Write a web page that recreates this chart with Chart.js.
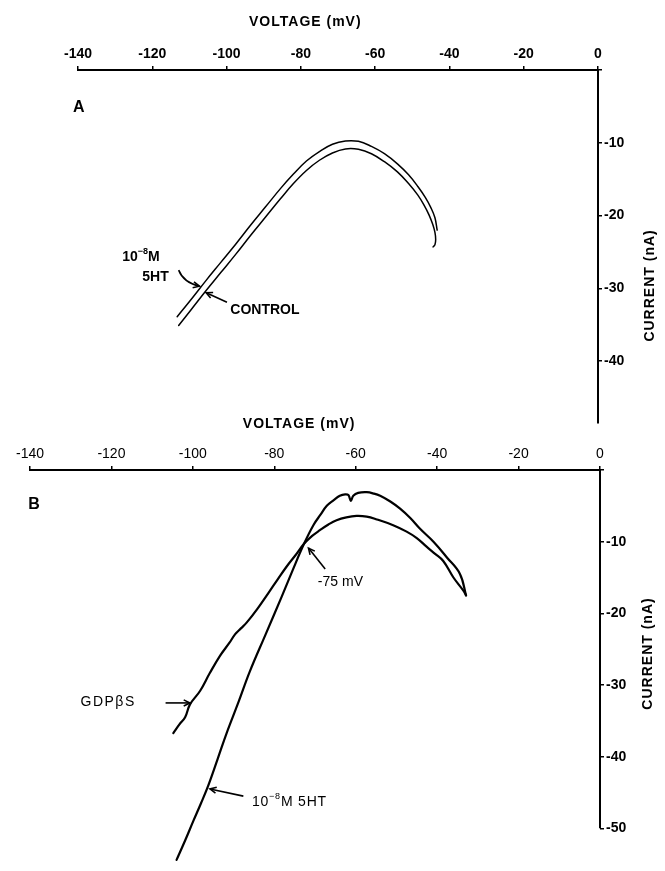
<!DOCTYPE html>
<html><head><meta charset="utf-8">
<script src="https://cdn.jsdelivr.net/npm/chart.js@4/dist/chart.umd.min.js"></script>
<style>
html,body{margin:0;padding:0;background:#fff;}
#wrap{position:relative;width:665px;height:871px;overflow:hidden;background:#fff;}
canvas{position:absolute;left:0;}
</style></head><body>
<div id="wrap">
<canvas id="ca" width="665" height="440" style="top:0px"></canvas>
<canvas id="cb" width="665" height="471" style="top:400px"></canvas>
</div>
<script>
// ---------- data ----------
const voltageTicks = [-140, -120, -100, -80, -60, -40, -20, 0];
const currentTicksA = [0, -10, -20, -30, -40];
const currentTicksB = [0, -10, -20, -30, -40, -50];

// Panel A : 10^-8 M 5HT (outer trace) and CONTROL (inner trace)
const a5htV = [-113.3,-109.5,-105.5,-101.5,-97.5,-93.5,-89.5,-85.5,-82,-78.5,-75,-71.5,-68,-64.5,-61,-57.5,-54,-51,-48.5,-46.5,-45,-43.9,-43.3];
const a5htI = [-33.9,-31.5,-28.9,-26.4,-23.9,-21.3,-18.8,-16.3,-14.3,-12.5,-11.2,-10.2,-9.75,-9.8,-10.5,-11.5,-12.9,-14.4,-16.0,-17.5,-18.9,-20.3,-22.0];
const aCtrlV = [-112.9,-109.5,-105.5,-101.5,-97.5,-93.5,-89.5,-85.5,-82,-78.5,-75,-71.5,-68,-64.5,-61,-57.5,-54,-51,-48.5,-46.8,-45.5,-44.5,-43.9,-43.7,-43.9,-44.4];
const aCtrlI = [-35.1,-32.9,-30.3,-27.8,-25.3,-22.7,-20.2,-17.7,-15.6,-13.8,-12.4,-11.4,-10.85,-10.9,-11.5,-12.6,-14.0,-15.6,-17.2,-18.6,-19.9,-21.2,-22.3,-23.3,-24.0,-24.3];

// Panel B : 10^-8 M 5HT and GDPbetaS
const b5htV = [-104.0,-101.9,-99.9,-98.0,-96.2,-93.9,-91.7,-88.8,-86.0,-82.1,-78.2,-75.5,-72.7,-70.4,-68.6,-67.1,-65.4,-63.9,-62.6,-61.8,-61.2,-60.6,-59.4,-57.3,-55.5,-54.0,-51.5,-49.1,-46.6,-44.2,-40.9,-37.6,-34.4,-32.9];
const b5htI = [-54.4,-51.7,-49.0,-46.5,-44.0,-40.3,-36.7,-32.4,-28.1,-22.9,-17.7,-14.0,-10.3,-7.7,-6.2,-5.0,-4.2,-3.6,-3.4,-3.5,-4.3,-3.6,-3.2,-3.1,-3.3,-3.6,-4.4,-5.4,-6.7,-8.2,-10.0,-12.2,-14.5,-17.5];
const bGdpV = [-104.8,-103.3,-101.9,-100.7,-98.2,-95.8,-93.3,-91.0,-89.6,-88.2,-86.8,-84.2,-81.5,-79.2,-77.0,-74.8,-72.7,-70.7,-68.8,-66.7,-64.7,-62.3,-59.8,-57.3,-54.8,-50.8,-47.5,-45.0,-42.6,-40.5,-38.5,-36.0,-33.6,-32.9];
const bGdpI = [-36.7,-35.5,-34.5,-32.7,-30.8,-28.3,-25.9,-24.1,-22.9,-22.1,-21.3,-19.4,-17.2,-15.3,-13.5,-11.9,-10.3,-9.2,-8.4,-7.6,-7.0,-6.6,-6.4,-6.5,-6.9,-7.7,-8.6,-9.5,-10.7,-11.7,-12.7,-15.0,-16.8,-17.5];

const pts = (vs, is) => vs.map((v, k) => ({x: v, y: is[k]}));

// ---------- drawing helpers ----------
const FONT = "'Liberation Sans', Arial, sans-serif";
function arrowHead(ctx, x, y, ang, size) {
  ctx.beginPath();
  ctx.moveTo(x - size * Math.cos(ang - 0.45), y - size * Math.sin(ang - 0.45));
  ctx.lineTo(x, y);
  ctx.lineTo(x - size * Math.cos(ang + 0.45), y - size * Math.sin(ang + 0.45));
  ctx.stroke();
}
const notesPlugin = {
  id: 'notes',
  afterDraw(chart, args, opts) {
    const ctx = chart.ctx, xs = chart.scales.x, ys = chart.scales.y;
    const P = (v, i) => [xs.getPixelForValue(v), ys.getPixelForValue(i)];
    ctx.save();
    ctx.fillStyle = '#000'; ctx.strokeStyle = '#000';
    if (opts.yLine) {
      const [x0, y0] = P(0, opts.yLine[0]); const [, y1] = P(0, opts.yLine[1]);
      ctx.lineWidth = 2; ctx.beginPath(); ctx.moveTo(x0, y0 - 1); ctx.lineTo(x0, y1); ctx.stroke();
    }
    (opts.texts || []).forEach(t => {
      const [x, y] = P(t.v, t.i);
      ctx.save();
      ctx.translate(x, y);
      if (t.rot) ctx.rotate(t.rot);
      ctx.textBaseline = 'middle';
      ctx.textAlign = t.align || 'left';
      if (t.spacing) ctx.letterSpacing = t.spacing + 'px';
      if (t.parts) {
        let cx = 0;
        ctx.textAlign = 'left';
        t.parts.forEach(p => {
          ctx.font = (t.weight || 'bold') + ' ' + (p.sup ? Math.round(t.size * 0.65) : t.size) + 'px ' + FONT;
          ctx.fillText(p.s, cx, p.sup ? -t.size * 0.4 : 0);
          cx += ctx.measureText(p.s).width + (p.gap || 0);
        });
      } else {
        ctx.font = (t.weight || 'bold') + ' ' + t.size + 'px ' + FONT;
        ctx.fillText(t.s, 0, 0);
      }
      ctx.restore();
    });
    (opts.arrows || []).forEach(a => {
      const [x1, y1] = P(a.from[0], a.from[1]);
      const [x2, y2] = P(a.to[0], a.to[1]);
      ctx.lineWidth = a.w || 1.6;
      ctx.beginPath(); ctx.moveTo(x1, y1);
      let ang;
      if (a.ctrl) {
        const [cx, cy] = P(a.ctrl[0], a.ctrl[1]);
        ctx.quadraticCurveTo(cx, cy, x2, y2);
        ang = Math.atan2(y2 - cy, x2 - cx);
      } else {
        ctx.lineTo(x2, y2);
        ang = Math.atan2(y2 - y1, x2 - x1);
      }
      ctx.stroke();
      arrowHead(ctx, x2, y2, ang, 7);
    });
    ctx.restore();
  }
};

function makeChart(id, cfg) {
  const tickFontX = {family: FONT, size: 14, weight: cfg.xTickWeight};
  const tickFontY = {family: FONT, size: 14, weight: 'bold'};
  return new Chart(document.getElementById(id), {
    type: 'line',
    data: {datasets: cfg.datasets.map(d => ({
      data: d.data, borderColor: '#000', borderWidth: d.w, pointRadius: 0,
      tension: 0.4, fill: false, clip: false, borderCapStyle: 'round', borderJoinStyle: 'round'
    }))},
    options: {
      responsive: false, animation: false, events: [],
      layout: {padding: {left: cfg.left, right: 0, top: 0, bottom: cfg.bottom}},
      plugins: {legend: {display: false}, tooltip: {enabled: false}, notes: cfg.notes},
      scales: {
        x: {
          type: 'linear', position: 'top', min: voltageTicks[0], max: voltageTicks[voltageTicks.length - 1],
          afterBuildTicks: s => { s.ticks = voltageTicks.map(v => ({value: v})); },
          afterFit: s => { s.height = cfg.top; },
          ticks: {font: tickFontX, color: '#000', padding: 3, maxRotation: 0, autoSkip: false},
          grid: {drawOnChartArea: false, drawTicks: true, tickLength: 4, color: '#000', lineWidth: 1.5},
          border: {display: true, color: '#000', width: 2}
        },
        y: {
          type: 'linear', position: 'right', min: cfg.yMin, max: 0,
          afterBuildTicks: s => { s.ticks = cfg.yTicks.map(v => ({value: v})); },
          afterFit: s => { s.width = cfg.yWidth; },
          ticks: {font: tickFontY, color: '#000', padding: 2, callback: v => v === 0 ? '' : String(v)},
          grid: {drawOnChartArea: false, drawTicks: true, tickLength: 4, color: '#000', lineWidth: 1.5},
          border: {display: cfg.yBorder, color: '#000', width: 2}
        }
      }
    },
    plugins: [notesPlugin]
  });
}

// Panel A
makeChart('ca', {
  left: 78, top: 70, bottom: 17, yWidth: 67, yMin: -48.5, yTicks: currentTicksA, yBorder: true,
  xTickWeight: 'bold',
  datasets: [{data: pts(a5htV, a5htI), w: 1.5}, {data: pts(aCtrlV, aCtrlI), w: 1.5}],
  notes: {
    texts: [
      {s: 'VOLTAGE (mV)', v: -78.8, i: 6.6, align: 'center', size: 14, spacing: 1},
      {s: 'A', v: -139.8, i: -5.1, align: 'center', size: 16},
      {s: 'CURRENT (nA)', v: 14.1, i: -29.6, align: 'center', size: 14, rot: -Math.PI / 2, spacing: 1},
      {parts: [{s: '10'}, {s: '−8', sup: true}, {s: 'M'}], v: -128.1, i: -25.7, size: 14},
      {s: '5HT', v: -122.7, i: -28.4, size: 14},
      {s: 'CONTROL', v: -99, i: -33, size: 14}
    ],
    arrows: [
      {from: [-112.9, -27.5], ctrl: [-111.6, -29.2], to: [-107.3, -29.7]},
      {from: [-99.9, -31.9], to: [-105.5, -30.6]}
    ]
  }
});

// Panel B
makeChart('cb', {
  left: 30, top: 70, bottom: 0, yWidth: 65, yMin: -54.5, yTicks: currentTicksB, yBorder: false,
  xTickWeight: 'normal',
  datasets: [{data: pts(b5htV, b5htI), w: 2.2}, {data: pts(bGdpV, bGdpI), w: 2.2}],
  notes: {
    yLine: [0, -50],
    texts: [
      {s: 'VOLTAGE (mV)', v: -73.9, i: 6.4, align: 'center', size: 14, spacing: 1},
      {s: 'B', v: -139, i: -4.8, align: 'center', size: 16},
      {s: 'CURRENT (nA)', v: 11.8, i: -25.6, align: 'center', size: 14, rot: -Math.PI / 2, spacing: 1},
      {s: '-75 mV', v: -69.3, i: -15.6, size: 14, weight: 'normal'},
      {s: 'GDPβS', v: -127.6, i: -32.4, size: 14, weight: 'normal', spacing: 1.5},
      {parts: [{s: '10'}, {s: '−8', sup: true}, {s: 'M 5HT'}], v: -85.5, i: -46.3, size: 14, weight: 'normal', spacing: 0.8}
    ],
    arrows: [
      {from: [-67.5, -13.8], to: [-71.6, -10.9]},
      {from: [-106.7, -32.5], to: [-100.7, -32.5]},
      {from: [-87.6, -45.5], to: [-95.8, -44.5]}
    ]
  }
});
</script>
</body></html>
